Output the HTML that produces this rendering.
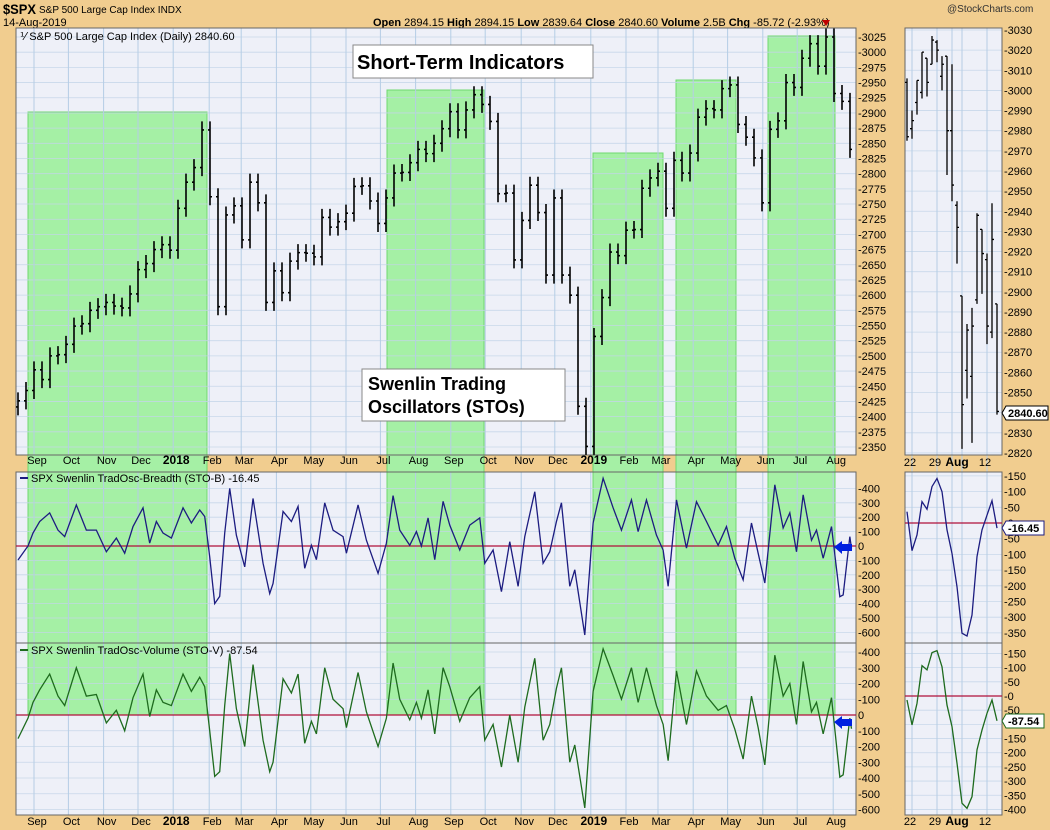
<!DOCTYPE html>
<html><head><meta charset="utf-8"><style>
html,body{margin:0;padding:0;background:#F1CD8F;}
svg{display:block;font-family:"Liberation Sans",Arial,sans-serif;}
</style></head><body>
<svg id="c" width="1050" height="830" viewBox="0 0 1050 830" xmlns="http://www.w3.org/2000/svg">
<rect x="0" y="0" width="1050" height="830" fill="#F1CD8F"/>
<g>
<text x="3" y="14" font-size="14" font-weight="bold" textLength="33" lengthAdjust="spacingAndGlyphs">$SPX</text>
<text x="39" y="13" font-size="10">S&amp;P 500 Large Cap Index INDX</text>
<text x="3" y="26" font-size="11">14-Aug-2019</text>
<text x="947" y="12" font-size="10" fill="#333">@StockCharts.com</text>
<text x="373" y="26" font-size="11"><tspan font-weight="bold">Open</tspan> 2894.15 <tspan font-weight="bold">High</tspan> 2894.15 <tspan font-weight="bold">Low</tspan> 2839.64 <tspan font-weight="bold">Close</tspan> 2840.60 <tspan font-weight="bold">Volume</tspan> 2.5B <tspan font-weight="bold">Chg</tspan> -85.72 (-2.93%)</text>
<path d="M822 20 L830 20 L826 26 Z" fill="#C00000"/>
</g>
<g id="g"></g>
</svg>
<script>
// ---- data ----
const weeklyClose=[2426,2443,2477,2461,2500,2502,2519,2549,2553,2575,2581,2588,2582,2579,2602,2642,2652,2675,2683,2674,2743,2786,2810,2872,2762,2581,2732,2747,2691,2786,2752,2588,2640,2604,2656,2670,2669,2663,2728,2712,2721,2735,2779,2780,2755,2718,2760,2801,2802,2818,2840,2833,2850,2874,2902,2872,2905,2930,2914,2886,2767,2768,2658,2723,2781,2736,2633,2760,2633,2600,2417,2351,2532,2596,2671,2665,2707,2708,2776,2793,2804,2743,2822,2801,2834,2893,2907,2905,2940,2946,2881,2860,2826,2752,2873,2887,2950,2942,2990,3014,2977,3025,2932,2919,2840];
const priceTicks=[3025,3000,2975,2950,2925,2900,2875,2850,2825,2800,2775,2750,2725,2700,2675,2650,2625,2600,2575,2550,2525,2500,2475,2450,2425,2400,2375,2350];
const monthLabels=["Sep","Oct","Nov","Dec","2018","Feb","Mar","Apr","May","Jun","Jul","Aug","Sep","Oct","Nov","Dec","2019","Feb","Mar","Apr","May","Jun","Jul","Aug"];
const monthWeek=[2.0,6.3,10.7,15,19.4,23.9,27.9,32.3,36.6,41,45.3,49.7,54.1,58.4,62.9,67.1,71.6,76,80,84.4,88.7,93.1,97.4,101.9];
const oscDay=[0,6,9,13,19,24,28,35,41,47,53,59,64,69,75,79,83,87,92,99,104,109,112,115,118,121,124,127,131,136,141,147,151,153,159,164,168,172,176,179,184,189,195,197,204,209,216,221,225,229,235,239,242,246,250,255,259,265,271,277,280,285,290,295,300,304,310,315,319,323,326,331,334,340,345,351,357,362,368,372,377,383,387,390,395,401,407,413,420,425,430,435,440,444,448,454,459,463,467,471,476,479,483,488,493,495,499,500];
const stoB=[-97,0,90,170,230,110,65,285,110,110,-40,55,-50,135,265,20,170,90,55,265,160,250,205,-75,-400,-350,90,400,75,-145,330,-120,-330,-260,240,170,275,-155,5,-95,300,110,65,-50,285,40,-190,20,350,110,5,100,0,195,-95,310,145,-28,145,195,-120,-28,-317,30,-280,65,377,-120,-40,170,300,-280,-165,-618,160,470,265,110,320,100,320,75,-28,-280,320,-15,308,170,5,135,-85,-235,160,-50,-257,425,125,230,-40,355,40,110,-85,135,-352,-340,65,-16.45];
const stoV=[-150,-20,80,160,260,120,60,300,120,130,-50,30,-100,110,260,-10,160,80,60,260,150,240,180,-100,-390,-360,60,390,40,-200,320,-160,-360,-300,230,140,260,-180,-40,-120,300,100,40,-80,270,20,-200,-20,330,100,-30,80,-20,160,-120,300,180,-40,110,180,-160,-60,-330,0,-300,50,360,-160,-60,170,300,-300,-190,-590,150,420,250,100,300,80,300,60,-60,-290,280,-60,280,120,30,60,-90,-280,120,-80,-317,380,120,200,-60,340,20,80,-120,110,-394,-380,-20,-87.54];
const stoBTicks=[400,300,200,100,0,-100,-200,-300,-400,-500,-600];
const stoVTicks=[400,300,200,100,0,-100,-200,-300,-400,-500,-600];
const dayOpen=[3004,2981,2994,2999,3016,3013,3024,3007,3017,2980,2943,2898,2861,2858,2896,2931,2916,2880,2894];
const dayHigh=[3006,2990,3005,3019,3016,3027,3025,3017,3017,3013,2945,2898,2884,2892,2939,2931,2919,2944,2894];
const dayLow=[2975,2976,2988,2996,2997,3013,3014,3000,2958,2945,2914,2822,2847,2825,2894,2899,2874,2877,2839];
const dayClose=[2977,2985,3005,3019,3004,3025,3020,3013,2980,2953,2932,2844,2881,2883,2938,2919,2883,2926,2840.6];
const miniTicks=[3030,3020,3010,3000,2990,2980,2970,2960,2950,2940,2930,2920,2910,2900,2890,2880,2870,2860,2850,2840,2830,2820];
const miniStoB=[36,-88,-38,68,44,116,142,100,-22,-97,-203,-351,-360,-293,-107,-22,25,71,-16.45];
const miniStoV=[-14,-102,-26,107,92,153,160,103,-32,-108,-237,-378,-396,-355,-190,-120,-61,-14,-87.54];
const miniBTicks=[150,100,50,0,-50,-100,-150,-200,-250,-300,-350];
const miniVTicks=[150,100,50,0,-50,-100,-150,-200,-250,-300,-350,-400];
const miniDateLabels=["22","29","Aug","12"];
const miniDateIdx=[1,6,9,16];

const L={x0:16,x1:856},R={x0:905,x1:1002};
const P={y0:28,y1:455},B={y0:472,y1:643},V={y0:643,y1:815};
const xw=w=>18+w*8.0;
const xd=d=>18+d*1.667;
const yP=p=>37+(3025-p)*0.6074;
const yB=v=>546-v*0.144;
const yV=v=>715-v*0.1575;
const xm=i=>907+i*5;
const yMP=p=>30+(3030-p)*2.014;
const yMB=v=>523-v*0.314;
const yMV=v=>696-v*0.2836;

const NS="http://www.w3.org/2000/svg";
const root=document.getElementById('g');
function mk(tag,attrs,parent){const e=document.createElementNS(NS,tag);for(const k in attrs)e.setAttribute(k,attrs[k]);(parent||root).appendChild(e);return e;}

const panels=[[L.x0,P.y0,L.x1,P.y1,'price-panel'],[L.x0,B.y0,L.x1,B.y1,'sto-b-panel'],[L.x0,V.y0,L.x1,V.y1,'sto-v-panel'],[R.x0,P.y0,R.x1,P.y1,'mini-price-panel'],[R.x0,B.y0,R.x1,B.y1,'mini-sto-b-panel'],[R.x0,V.y0,R.x1,V.y1,'mini-sto-v-panel']];
for(const p of panels){
  const r=mk('rect',{x:p[0],y:p[1],width:p[2]-p[0],height:p[3]-p[1],fill:'#EEF0F8'});
  
  
}
const zones=[[28,207,112],[387,484,90],[593,663,153],[676,736,80],[768,835,36]];
zones.forEach((z,i)=>{
  const a=mk('rect',{x:z[0],y:z[2],width:z[1]-z[0],height:B.y1-z[2],fill:'#A5F0A5',stroke:'#70D870','stroke-width':1});
  
  
  const b=mk('rect',{x:z[0],y:V.y0,width:z[1]-z[0],height:715-V.y0,fill:'#A5F0A5',stroke:'#70D870','stroke-width':1});
  
  
});
function hgrid(x0,x1,ys,name){ys.forEach(y=>{const l=mk('line',{x1:x0,x2:x1,y1:y,y2:y,stroke:'#C3D5E8','stroke-width':0.8,'stroke-opacity':0.9});});}
hgrid(L.x0,L.x1,priceTicks.map(yP),'price-gridline');
hgrid(L.x0,L.x1,stoBTicks.map(yB),'sto-b-gridline');
hgrid(L.x0,L.x1,stoVTicks.map(yV),'sto-v-gridline');
hgrid(R.x0,R.x1,miniTicks.map(yMP),'mini-price-gridline');
hgrid(R.x0,R.x1,miniBTicks.map(yMB),'mini-sto-b-gridline');
hgrid(R.x0,R.x1,miniVTicks.map(yMV),'mini-sto-v-gridline');
monthWeek.forEach(w=>{[[P.y0,P.y1],[B.y0,V.y1]].forEach(s=>{const l=mk('line',{x1:xw(w),x2:xw(w),y1:s[0],y2:s[1],stroke:'#B5CDE5','stroke-width':1});});});
miniDateIdx.concat([11]).forEach(i=>{const l=mk('line',{x1:xm(i),x2:xm(i),y1:P.y0,y2:V.y1,stroke:'#B5CDE5','stroke-width':1});});
for(const p of panels){const r=mk('rect',{x:p[0],y:p[1],width:p[2]-p[0],height:p[3]-p[1],fill:'none',stroke:'#666','stroke-width':1});}

weeklyClose.forEach((c,i)=>{
  const prev=i?weeklyClose[i-1]:c-10;
  const hi=Math.max(prev,c)+14, lo=Math.min(prev,c)-14;
  const x=xw(i);
  const g=mk('path',{d:`M${x} ${yP(hi)}V${yP(lo)}M${x-2} ${yP(prev)}H${x}M${x} ${yP(c)}H${x+2}`,stroke:'#000','stroke-width':1.6,fill:'none'});
  
  
});
dayClose.forEach((c,i)=>{
  const x=xm(i);
  const g=mk('path',{d:`M${x} ${yMP(dayHigh[i])}V${yMP(dayLow[i])}M${x-2} ${yMP(dayOpen[i])}H${x}M${x} ${yMP(c)}H${x+2}`,stroke:'#000','stroke-width':1.3,fill:'none'});
  
  
});
[[L.x0,L.x1,yB(0)],[L.x0,L.x1,yV(0)],[R.x0,R.x1,yMB(0)],[R.x0,R.x1,yMV(0)]].forEach(z=>{const l=mk('line',{x1:z[0],x2:z[1],y1:z[2],y2:z[2],stroke:'#B0103A','stroke-width':1.2});});
function line(xs,ys,col,name){const p=mk('polyline',{points:xs.map((x,i)=>x+','+ys[i]).join(' '),fill:'none',stroke:col,'stroke-width':1.3});}
line(oscDay.map(xd),stoB.map(yB),'#1C1C80','sto-b-line');
line(oscDay.map(xd),stoV.map(yV),'#1E6B1E','sto-v-line');
line(miniStoB.map((v,i)=>xm(i)),miniStoB.map(yMB),'#1C1C80','mini-sto-b-line');
line(miniStoV.map((v,i)=>xm(i)),miniStoV.map(yMV),'#1E6B1E','mini-sto-v-line');

function lab(x,y,t,name,opts){const e=mk('text',Object.assign({x:x,y:y,'font-size':11,fill:'#000'},opts||{}));e.textContent=t;return e;}
priceTicks.forEach(p=>lab(858,yP(p)+4,'-'+p,'price-tick-label'));
stoBTicks.forEach(v=>lab(858,yB(v)+4,(v>0?'-':'')+v,'sto-b-tick-label'));
stoVTicks.forEach(v=>lab(858,yV(v)+4,(v>0?'-':'')+v,'sto-v-tick-label'));
miniTicks.forEach(p=>lab(1004,yMP(p)+4,'-'+p,'mini-price-tick-label'));
miniBTicks.forEach(v=>lab(1004,yMB(v)+4,(v>=0?'-':'')+v,'mini-sto-b-tick-label'));
miniVTicks.forEach(v=>lab(1004,yMV(v)+4,(v>=0?'-':'')+v,'mini-sto-v-tick-label'));
monthLabels.forEach((m,i)=>{
  const bold=/^\d/.test(m);
  [464,825].forEach(y=>lab(xw(monthWeek[i])+3,y,m,'month-label',{'text-anchor':'middle','font-weight':bold?'bold':'normal','font-size':bold?12:11}));
});
miniDateLabels.forEach((m,i)=>{
  [466,825].forEach(y=>lab(xm(miniDateIdx[i])+(m==='Aug'?5:-2),y,m,'mini-date-label',{'text-anchor':'middle','font-weight':m==='Aug'?'bold':'normal','font-size':m==='Aug'?12:11}));
});
</script>
<script>
const s=document.getElementById('c');
function add(html){s.insertAdjacentHTML('beforeend',html);}
add(`<text x="20" y="40" font-size="11">⅟ S&amp;P 500 Large Cap Index (Daily) 2840.60</text>`);
add(`<line x1="20" x2="28" y1="478" y2="478" stroke="#1C1C80" stroke-width="2"/><text x="31" y="482" font-size="11">SPX Swenlin TradOsc-Breadth (STO-B) -16.45</text>`);
add(`<line x1="20" x2="28" y1="650" y2="650" stroke="#1E6B1E" stroke-width="2"/><text x="31" y="654" font-size="11">SPX Swenlin TradOsc-Volume (STO-V) -87.54</text>`);
add(`<g><rect x="353" y="45" width="240" height="33" fill="#fff" stroke="#888"/><text x="357" y="69" font-size="20" font-weight="bold">Short-Term Indicators</text></g>`);
add(`<g><rect x="362" y="369" width="203" height="52" fill="#fff" stroke="#888"/><text x="368" y="390" font-size="18" font-weight="bold">Swenlin Trading</text><text x="368" y="413" font-size="18" font-weight="bold">Oscillators (STOs)</text></g>`);
add(`<path d="M834 547 L842 541 L842 544 L852 544 L852 551 L842 551 L842 554 Z" fill="#0020E0"/>`);
add(`<path d="M834 722 L842 716 L842 719 L852 719 L852 726 L842 726 L842 729 Z" fill="#0020E0"/>`);
add(`<g><path d="M1002 413 L1006 406 L1048 406 L1048 420 L1006 420 Z" fill="#fff" stroke="#000"/><text x="1008" y="417" font-size="11" font-weight="bold">2840.60</text></g>`);
add(`<g><path d="M1002 528 L1006 521 L1044 521 L1044 535 L1006 535 Z" fill="#fff" stroke="#1C1C80"/><text x="1008" y="532" font-size="11" font-weight="bold">-16.45</text></g>`);
add(`<g><path d="M1002 721 L1006 714 L1044 714 L1044 728 L1006 728 Z" fill="#fff" stroke="#1E6B1E"/><text x="1008" y="725" font-size="11" font-weight="bold">-87.54</text></g>`);
</script>
</body></html>
